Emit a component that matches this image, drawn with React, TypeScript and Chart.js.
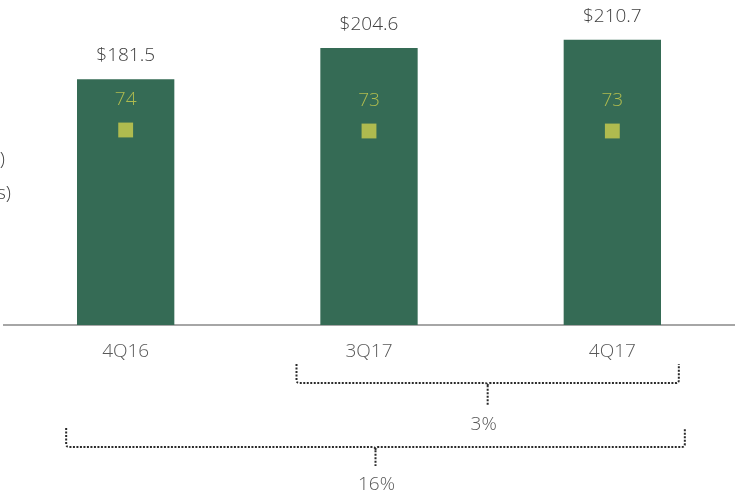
import React, { useEffect, useRef } from "react";
import { Chart, registerables } from "chart.js";

Chart.register(...registerables);

const categories = ["4Q16", "3Q17", "4Q17"];
const revenue = [181.5, 204.6, 210.7];
const revenueLabels = ["$181.5", "$204.6", "$210.7"];
const efficiency = [74, 73, 73];
const bracketFrom = [1, 0];
const bracketTo = [2, 2];
const bracketLabels = ["3%", "16%"];
const sideLabels = ["Efficiency ratio (%)", "Revenue ($ billions)"];

const FONT = "'Open Sans', 'DejaVu Sans', sans-serif";
const BAR = "#356b55";
const MARK = "#afbb4f";

const bracketGeom = [
  { l: -72.5, r: 66.5, top: 364, y: 383, tick: 405, text: 425, dx: -4 },
  { l: -59.5, r: 72.5, top: 428, y: 447, tick: 466, text: 485, dx: 1 },
];

const labelsPlugin = {
  id: "customLabels",
  afterDatasetsDraw(chart: any) {
    const ctx = chart.ctx;
    const barMeta = chart.getDatasetMeta(0);
    const ptMeta = chart.getDatasetMeta(1);
    const x = chart.scales.x;
    ctx.save();
    ctx.textAlign = "center";
    ctx.textBaseline = "alphabetic";
    ctx.font = `300 19px ${FONT}`;
    ctx.fillStyle = "#404040";
    barMeta.data.forEach((el: any, i: number) => {
      ctx.fillText(revenueLabels[i], el.x, el.y - 18);
    });
    ctx.fillStyle = MARK;
    ptMeta.data.forEach((el: any, i: number) => {
      ctx.fillText(String(efficiency[i]), el.x, el.y - 25);
    });
    // side labels (cut off at the left edge)
    ctx.textAlign = "right";
    ctx.fillStyle = "#404040";
    ctx.fillText(sideLabels[0], 5, 165);
    ctx.fillText(sideLabels[1], 11, 199);
    // brackets
    bracketLabels.forEach((lab, i) => {
      const g = bracketGeom[i];
      const l = x.getPixelForValue(bracketFrom[i]) + g.l;
      const r = x.getPixelForValue(bracketTo[i]) + g.r;
      const m = (l + r) / 2;
      ctx.save();
      ctx.strokeStyle = "#2a2a2a";
      ctx.lineWidth = 2;
      ctx.setLineDash([2, 1.5]);
      ctx.beginPath();
      ctx.moveTo(l, g.top);
      ctx.lineTo(l, g.y - 3);
      ctx.quadraticCurveTo(l, g.y, l + 3, g.y);
      ctx.lineTo(m - 3, g.y);
      ctx.quadraticCurveTo(m, g.y, m, g.y + 3);
      ctx.lineTo(m, g.tick);
      ctx.moveTo(m, g.y + 3);
      ctx.quadraticCurveTo(m, g.y, m + 3, g.y);
      ctx.lineTo(r - 3, g.y);
      ctx.quadraticCurveTo(r, g.y, r, g.y - 3);
      ctx.lineTo(r, g.top);
      ctx.stroke();
      ctx.restore();
      ctx.textAlign = "center";
      ctx.textBaseline = "middle";
      ctx.fillStyle = "#595959";
      ctx.font = `300 19px ${FONT}`;
      ctx.fillText(lab, m + g.dx, g.text);
    });
    ctx.restore();
  },
};

export default function App() {
  const ref = useRef<HTMLCanvasElement>(null);
  useEffect(() => {
    document.body.style.margin = "0";
    const chart = new Chart(ref.current!, {
      type: "bar",
      data: {
        labels: categories,
        datasets: [
          {
            type: "bar",
            data: revenue,
            backgroundColor: BAR,
            barPercentage: 0.4,
            categoryPercentage: 1,
            yAxisID: "y",
            order: 2,
          },
          {
            type: "line",
            data: efficiency,
            showLine: false,
            pointStyle: "rect",
            pointRadius: 10.5,
            pointBackgroundColor: MARK,
            pointBorderWidth: 0,
            yAxisID: "y2",
            order: 1,
          } as any,
        ],
      },
      options: {
        animation: false,
        responsive: false,
        devicePixelRatio: 1,
        layout: { autoPadding: false, padding: { left: 4, right: 1, top: 0, bottom: 0 } },
        plugins: { legend: { display: false }, tooltip: { enabled: false } },
        scales: {
          x: {
            grid: { display: false, drawTicks: false },
            border: { display: true, color: "#a6a6a6", width: 2 },
            ticks: {
              padding: 15,
              color: "#595959",
              font: { family: FONT, size: 19, weight: "300" as any },
            },
            afterFit(scale: any) {
              scale.height = 171;
              scale.paddingLeft = 0;
              scale.paddingRight = 0;
            },
          },
          y: { display: false, min: 0, max: 240 },
          y2: { display: false, min: -121, max: 204 },
        },
      },
      plugins: [labelsPlugin],
    });
    return () => chart.destroy();
  }, []);
  return (
    <div style={{ width: 735, height: 496 }}>
      <canvas ref={ref} width={735} height={496} />
    </div>
  );
}
